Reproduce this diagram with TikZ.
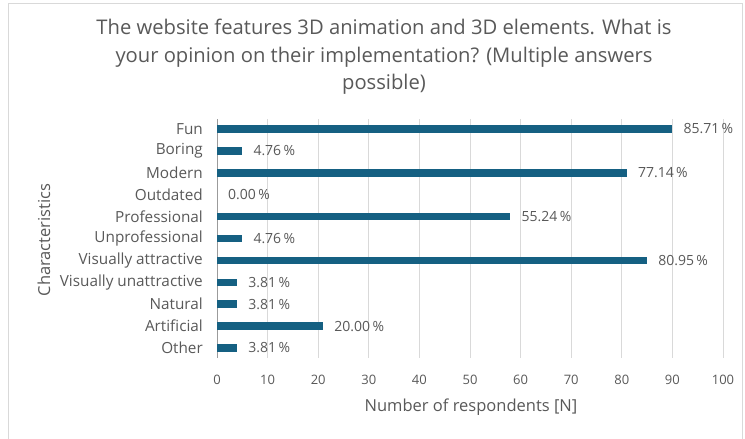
\documentclass[tikz,border=0pt]{standalone}
\usepackage{fontspec}
\setmainfont{Open Sans}
\definecolor{txt}{HTML}{595959}
\definecolor{bar}{HTML}{156082}
\definecolor{grid}{HTML}{D9D9D9}
\definecolor{frame}{HTML}{D9D9D9}
\begin{document}
\begin{tikzpicture}[x=1pt,y=-1pt,
  cat/.style={anchor=east,text=txt,font=\fontsize{15.3}{17}\selectfont,inner sep=0pt},
  val/.style={anchor=west,text=txt,font=\fontsize{14}{16}\selectfont,inner sep=0pt},
  tick/.style={anchor=center,text=txt,font=\fontsize{13}{15}\selectfont,inner sep=0pt},
  barfill/.style={fill=bar,draw=none},
  gridline/.style={draw=grid,line width=0.8pt}]
\useasboundingbox (0,0) rectangle (745,439);
\fill[white] (0,0) rectangle (745,439);
\draw[frame,line width=0.8pt] (8,3) rectangle (742,445);
% title
\node[text=txt,align=center,font=\fontsize{20.2}{27.5}\selectfont,inner sep=0pt] (title) at (384,57)
 {The website features 3D animation and 3D elements. What is\\your opinion on their implementation? (Multiple answers\\possible)};
% grid
\foreach \v in {10,20,...,100} {\draw[gridline] ({217+5.06*\v},119) -- ({217+5.06*\v},358);}
\draw[draw=txt!60,line width=0.8pt] (217,119) -- (217,358);
\foreach \v in {0,10,...,100} {\node[tick] (t\v) at ({217+5.06*\v},380) {\v};}
% bars
\foreach \i/\name/\n/\p in {0/Fun/90/85.71,1/Boring/5/4.76,2/Modern/81/77.14,3/Outdated/0/0.00,4/Professional/58/55.24,5/Unprofessional/5/4.76,6/Visually attractive/85/80.95,7/Visually unattractive/4/3.81,8/Natural/4/3.81,9/Artificial/21/20.00,10/Other/4/3.81}{
  \pgfmathsetmacro{\yy}{129+21.9*\i}
  \node[cat] (c\i) at (203,\yy) {\name};
  \ifnum\n>0 \fill[barfill] (217,\yy-3.8) rectangle ({217+5.06*\n},\yy+3.8);\fi
  \node[val] (v\i) at ({228+5.06*\n},\yy) {\p\,\%};
}
\node[text=txt,font=\fontsize{16.5}{18}\selectfont,rotate=90,inner sep=0pt] (ylab) at (44,240) {Characteristics};
\node[text=txt,font=\fontsize{16.5}{18}\selectfont,inner sep=0pt] (xlab) at (471,407) {Number of respondents [N]};
\end{tikzpicture}
\end{document}
